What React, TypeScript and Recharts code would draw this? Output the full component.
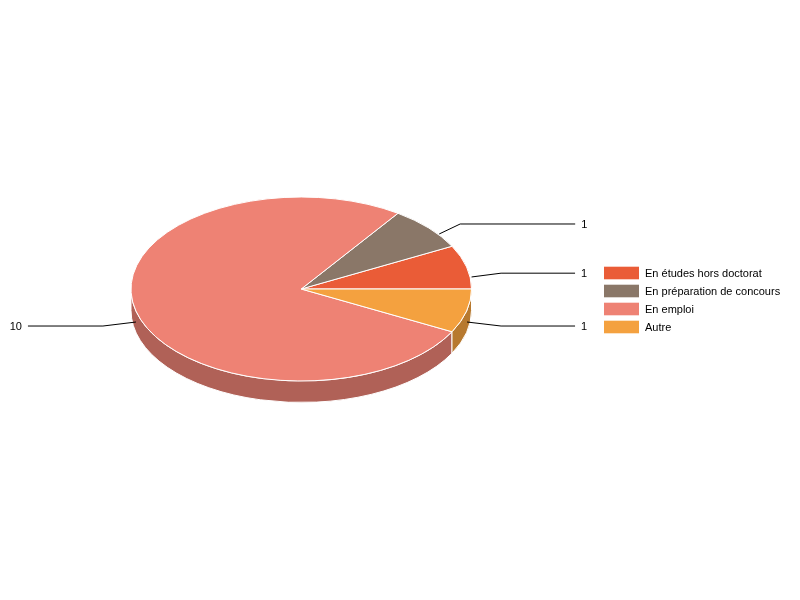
import { PieChart, Pie, Legend } from 'recharts';

// ── Data ─────────────────────────────────────────────────
const categories = ['En études hors doctorat', 'En préparation de concours', 'En emploi', 'Autre'];
const counts = [1, 1, 10, 1];
const topColors = ['#EA5C37', '#8A7768', '#EE8274', '#F4A13F'];
const sideColors = ['#B04629', '#685A4F', '#B06157', '#B7792F'];

const topData = categories.map((name, i) => ({ name, value: counts[i], fill: topColors[i] }));
const sideData = categories.map((name, i) => ({ name, value: counts[i], fill: sideColors[i] }));

// ── Layout ───────────────────────────────────────────────
const CX = 301.25;
const CY = 289;
const RADIUS = 170.25;
const SQUASH = 92 / 170.25;
const DEPTH = 21.5;
const FONT = '"Liberation Sans", Arial, sans-serif';

// leader line offsets from the rim midpoint of each slice
const leaders = [
  { start: [5, 10], elbow: [34.5, 6.2], endX: 108.5 },
  { start: [10.5, 6], elbow: [31.5, -4], endX: 146.5 },
  { start: [0, 11], elbow: [-33, 15], endX: -108 },
  { start: [0.5, 11], elbow: [34.5, 15], endX: 108.5 },
];

const RAD = Math.PI / 180;
const rimX = (cx: number, r: number, a: number) => cx + r * Math.cos(a * RAD);
const rimY = (cy: number, r: number, a: number) => cy - r * SQUASH * Math.sin(a * RAD);

// ── Shapes ───────────────────────────────────────────────
function TopSlice({ cx, cy, outerRadius: r, startAngle, endAngle, fill }: any) {
  const large = endAngle - startAngle > 180 ? 1 : 0;
  const d = [
    `M ${cx} ${cy}`,
    `L ${rimX(cx, r, startAngle)} ${rimY(cy, r, startAngle)}`,
    `A ${r} ${r * SQUASH} 0 ${large} 0 ${rimX(cx, r, endAngle)} ${rimY(cy, r, endAngle)}`,
    'Z',
  ].join(' ');
  return <path d={d} fill={fill} stroke="#fff" strokeWidth={1} strokeLinejoin="round" />;
}

function SideSlice({ cx, cy, outerRadius: r, startAngle, endAngle, fill }: any) {
  // only the front half of the rim is visible
  const from = Math.max(startAngle, 180);
  const to = Math.min(endAngle, 360);
  if (to <= from) return null;
  const ry = r * SQUASH;
  const d = [
    `M ${rimX(cx, r, from)} ${rimY(cy, r, from)}`,
    `A ${r} ${ry} 0 0 0 ${rimX(cx, r, to)} ${rimY(cy, r, to)}`,
    `L ${rimX(cx, r, to)} ${rimY(cy, r, to) + DEPTH}`,
    `A ${r} ${ry} 0 0 1 ${rimX(cx, r, from)} ${rimY(cy, r, from) + DEPTH}`,
    'Z',
  ].join(' ');
  return <path d={d} fill={fill} stroke="#fff" strokeWidth={1} />;
}

function LeaderLine({ cx, cy, outerRadius: r, midAngle, index }: any) {
  const l = leaders[index];
  const mx = rimX(cx, r, midAngle);
  const my = rimY(cy, r, midAngle);
  const ey = my + l.elbow[1];
  const points = [
    `${mx + l.start[0]},${my + l.start[1]}`,
    `${mx + l.elbow[0]},${ey}`,
    `${mx + l.endX},${ey}`,
  ].join(' ');
  return <polyline points={points} fill="none" stroke="#000" strokeWidth={1} />;
}

function LeaderLabel({ cx, cy, outerRadius: r, midAngle, index, value }: any) {
  const l = leaders[index];
  const mx = rimX(cx, r, midAngle);
  const my = rimY(cy, r, midAngle);
  const right = l.endX > 0;
  return (
    <text
      x={mx + l.endX + (right ? 6 : -6)}
      y={my + l.elbow[1] + 4}
      textAnchor={right ? 'start' : 'end'}
      fontFamily={FONT}
      fontSize={11}
      fill="#000"
    >
      {value}
    </text>
  );
}

function SliceLegend() {
  return (
    <div style={{ fontFamily: FONT, fontSize: 11, color: '#000' }}>
      {categories.map((name, i) => (
        <div key={name} style={{ display: 'flex', alignItems: 'center', height: 18 }}>
          <svg width={35} height={14} style={{ marginRight: 6, flex: 'none' }}>
            <rect x={0} y={0.7} width={35} height={12.6} fill={topColors[i]} />
          </svg>
          <span style={{ whiteSpace: 'nowrap' }}>{name}</span>
        </div>
      ))}
    </div>
  );
}

// ── Component ────────────────────────────────────────────
export default function App() {
  return (
    // own compositing layer keeps the text antialiasing grey, as in the reference
    <div style={{ position: 'absolute', left: 0, top: 0, width: 800, height: 600, willChange: 'transform' }}>
      <PieChart width={800} height={600} margin={{ top: 0, right: 0, bottom: 0, left: 0 }}>
        <Pie
          data={sideData}
          dataKey="value"
          nameKey="name"
          cx={CX}
          cy={CY}
          outerRadius={RADIUS}
          startAngle={0}
          endAngle={360}
          shape={SideSlice}
          label={false}
          labelLine={false}
          legendType="none"
          isAnimationActive={false}
        />
        <Pie
          data={topData}
          dataKey="value"
          nameKey="name"
          cx={CX}
          cy={CY}
          outerRadius={RADIUS}
          startAngle={0}
          endAngle={360}
          shape={TopSlice}
          label={LeaderLabel}
          labelLine={LeaderLine}
          isAnimationActive={false}
        />
        <Legend
          content={SliceLegend}
          layout="vertical"
          wrapperStyle={{ position: 'absolute', left: 604, top: 264, width: 190, bottom: 'auto' }}
        />
      </PieChart>
    </div>
  );
}
